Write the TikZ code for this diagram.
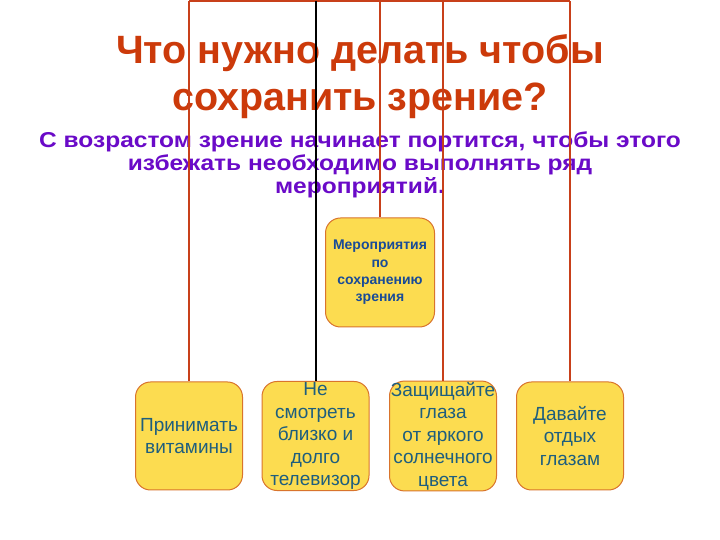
\documentclass[tikz,border=0pt]{standalone}
\usepackage{fontspec}
\setmainfont{Liberation Sans}
\newfontfamily\widesans[FakeStretch=1.14]{Liberation Sans}
\usetikzlibrary{positioning}
\definecolor{titlered}{HTML}{CC3A0A}
\definecolor{subviolet}{HTML}{6A0AC8}
\definecolor{boxfill}{HTML}{FCDC50}
\definecolor{boxline}{HTML}{D9742C}
\definecolor{boxtext}{HTML}{1E5E7E}
\definecolor{linkred}{HTML}{C8401A}
\tikzset{
  stepbox/.style={draw=boxline, fill=boxfill, line width=1pt, rounded corners=15pt,
    minimum width=107pt, minimum height=108pt, inner sep=1pt, align=center,
    text=boxtext, font=\fontsize{19}{22.5}\selectfont},
  hubbox/.style={stepbox, minimum width=109pt, minimum height=109pt,
    font=\fontsize{14}{17.3}\selectfont\bfseries, text=boxtext!80!blue},
  link/.style={linkred, line width=2pt},
}
\begin{document}
\begin{tikzpicture}[x=1pt,y=1pt]
\useasboundingbox (0,0) rectangle (720,540);
\fill[white] (0,0) rectangle (720,540);
% headings
\node (title) [align=center, text=titlered, font=\fontsize{39.5}{47}\selectfont\bfseries]
  at (360,463) {Что нужно делать чтобы\\сохранить зрение?};
\node (sub) [align=center, text=subviolet, font=\widesans\fontsize{21.5}{23}\selectfont\bfseries]
  at (360,375) {С возрастом зрение начинает портится, чтобы этого\\
  избежать необходимо выполнять ряд\\мероприятий.};
% boxes
\node (hub) [hubbox] at (380,267.5) {Мероприятия\\по\\сохранению\\зрения};
\node (b1) [stepbox] at (189,104) {Принимать\\витамины};
\node (b2) [stepbox] at (315.5,104) {Не\\смотреть\\близко и\\долго\\телевизор};
\node (b3) [stepbox] at (443,104) {Защищайте\\глаза\\ от яркого\\солнечного\\цвета};
\node (b4) [stepbox] at (570,104) {Давайте\\отдых\\глазам};
% links to the top edge
\coordinate (top) at (0,539);
\draw [link] (b1.north |- top) -- (b4.north |- top);
\draw [link] (b1.north |- top) -- (b1.north);
\draw [black, line width=2pt] (b2.north |- top) -- (b2.north);
\draw [link] (hub.north |- top) -- (hub.north);
\draw [link] (b3.north |- top) -- (b3.north);
\draw [link] (b4.north |- top) -- (b4.north);
\end{tikzpicture}
\end{document}
